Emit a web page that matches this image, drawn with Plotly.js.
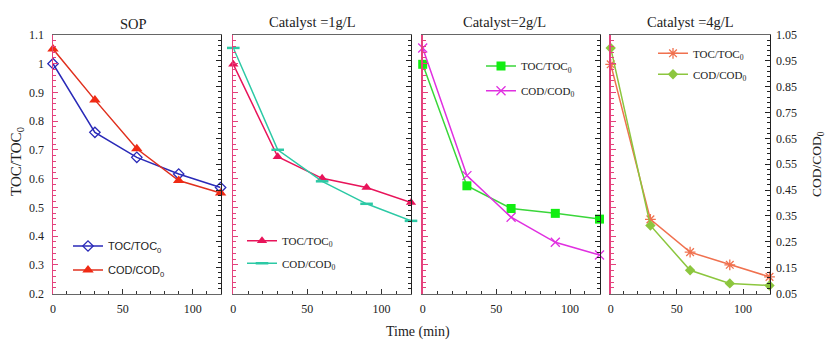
<!DOCTYPE html>
<html>
<head>
<meta charset="utf-8">
<script src="https://cdn.plot.ly/plotly-3.0.1.min.js"></script>
<style>html,body{margin:0;padding:0;background:#fff;}#chart{width:826px;height:343px;}</style>
</head>
<body>
<div id="chart"></div>
<script>
// ---- data ----
const times = [0, 30, 60, 90, 120];
const sopTOC  = [1.000, 0.761, 0.674, 0.616, 0.569];
const sopCOD  = [0.996, 0.799, 0.610, 0.487, 0.439];
const cat1TOC = [0.998, 0.676, 0.601, 0.569, 0.517];
const cat1COD = [1.000, 0.606, 0.484, 0.397, 0.331];
const cat2TOC = [0.998, 0.575, 0.496, 0.479, 0.459];
const cat2COD = [1.000, 0.506, 0.345, 0.248, 0.199];
const cat4TOC = [0.998, 0.458, 0.344, 0.300, 0.258];
const cat4COD = [1.000, 0.313, 0.140, 0.089, 0.081];
const panelTitles = ["SOP", "Catalyst =1g/L", "Catalyst=2g/L", "Catalyst =4g/L"];
const tocName = "TOC/TOC<sub>0</sub>";
const codName = "COD/COD<sub>0</sub>";
const xTitle = "Time (min)";
const leftTitle = "TOC/TOC<sub>0</sub>";
const rightTitle = "COD/COD<sub>0</sub>";

// ---- layout helpers ----
const W = 826, H = 343;
const px = v => v / W, py = v => 1 - v / H;
const SERIF = "'Liberation Serif', 'Times New Roman', serif";
const SANS = "'Liberation Sans', Arial, sans-serif";
const PINK = "#e5427d";
const panels = [[53, 220.6], [233.3, 411], [422.7, 599.5], [610.7, 769.5]];
const yDom = [py(293.5), py(35)];

const series = [
  {toc: sopTOC, cod: sopCOD,
   tocStyle: {line: {color: "#2a2ab8", width: 1.5}, marker: {symbol: "diamond-open", size: 8, color: "#2a2ab8", line: {width: 1.3}}},
   codStyle: {line: {color: "#e0301e", width: 1.5}, marker: {symbol: "triangle-up", size: 10, color: "#f02a14"}},
   font: SANS, leg: [[108, 246], [108, 270]]},
  {toc: cat1TOC, cod: cat1COD,
   tocStyle: {line: {color: "#e8145a", width: 1.5}, marker: {symbol: "triangle-up", size: 9, color: "#e8145a"}},
   codStyle: {line: {color: "#2cc9a5", width: 1.5}, marker: {symbol: "line-ew", size: 9, color: "#2cc9a5", line: {width: 2.5, color: "#2cc9a5"}}},
   font: SERIF, leg: [[282, 240.7], [282, 263.3]]},
  {toc: cat2TOC, cod: cat2COD,
   tocStyle: {line: {color: "#3ad63a", width: 1.5}, marker: {symbol: "square", size: 9, color: "#11ee11"}},
   codStyle: {line: {color: "#e030e0", width: 1.5}, marker: {symbol: "x-thin", size: 9, color: "#e030e0", line: {width: 1.3, color: "#e030e0"}}},
   font: SERIF, leg: [[521, 66], [521, 90.7]]},
  {toc: cat4TOC, cod: cat4COD,
   tocStyle: {line: {color: "#f0714f", width: 1.5}, marker: {symbol: "asterisk-open", size: 9, color: "#f0714f", line: {width: 1.3, color: "#f0714f"}}},
   codStyle: {line: {color: "#8cc63e", width: 1.5}, marker: {symbol: "diamond", size: 8, color: "#8cc63e"}},
   font: SERIF, leg: [[693, 53.3], [693, 74.3]]}
];

const data = [];
const layout = {
  width: W, height: H,
  margin: {l: 0, r: 0, t: 0, b: 0},
  paper_bgcolor: "#fff", plot_bgcolor: "rgba(0,0,0,0)",
  showlegend: true,
  font: {family: SERIF, size: 12, color: "#222"},
  annotations: [], shapes: []
};

series.forEach((s, i) => {
  const xn = i === 0 ? "x" : "x" + (i + 1);
  const yl = i === 0 ? "y" : "y" + (2 * i + 1);
  const yr = "y" + (2 * i + 2);
  const legL = i === 0 ? "legend" : "legend" + (2 * i + 1);
  const legR = "legend" + (2 * i + 2);
  data.push(Object.assign({x: times, y: s.toc, xaxis: xn, yaxis: yl, mode: "lines+markers",
    name: tocName, legend: legL, cliponaxis: false}, s.tocStyle));
  data.push(Object.assign({x: times, y: s.cod, xaxis: xn, yaxis: yr, mode: "lines+markers",
    name: codName, legend: legR, cliponaxis: false}, s.codStyle));

  const xk = i === 0 ? "xaxis" : "xaxis" + (i + 1);
  const ylk = i === 0 ? "yaxis" : "yaxis" + (2 * i + 1);
  const yrk = "yaxis" + (2 * i + 2);
  layout[xk] = {
    domain: [px(panels[i][0]), px(panels[i][1])], anchor: yl, range: [0, 120],
    tick0: 0, dtick: 50, ticks: "inside", ticklen: 5, tickcolor: "#333",
    minor: {dtick: 10, ticks: "inside", ticklen: 3, tickcolor: "#333"},
    showline: true, linecolor: "#666", linewidth: 1, mirror: true,
    showgrid: false, zeroline: false, ticklabelstandoff: 4,
    tickfont: {family: SERIF, size: 12, color: "#222"}
  };
  layout[ylk] = {
    domain: yDom, anchor: xn, range: [0.2, 1.1],
    tick0: 0.2, dtick: 0.1, ticks: "inside", ticklen: 5, tickcolor: PINK,
    minor: {tick0: 0.2, dtick: 0.02, ticks: "inside", ticklen: 3, tickcolor: PINK},
    showline: true, linecolor: PINK, linewidth: 1.5,
    showgrid: false, zeroline: false, showticklabels: i === 0, ticklabelstandoff: 5,
    tickfont: {family: SERIF, size: 12, color: "#222"}
  };
  layout[yrk] = {
    overlaying: yl, side: "right", anchor: xn, range: [0.05, 1.05],
    tick0: 0.05, dtick: 0.1, ticks: "inside", ticklen: 5, tickcolor: "#222",
    minor: {tick0: 0.05, dtick: 0.02, ticks: "inside", ticklen: 3, tickcolor: "#222"},
    showline: true, linecolor: "#222", linewidth: 1,
    showgrid: false, zeroline: false, showticklabels: i === 3, ticklabelstandoff: 3,
    tickfont: {family: SERIF, size: 12, color: "#222"}
  };
  // helper axes giving the outer half of the crossing tick marks (no data, no labels)
  const hx = "xaxis" + (5 + i), hxn = "x" + (5 + i);
  const hl = "yaxis" + (9 + 2 * i), hr = "yaxis" + (10 + 2 * i);
  layout[hx] = {overlaying: xn, anchor: yl, range: [0, 120], tick0: 0, dtick: 50,
    ticks: "outside", ticklen: 4, tickcolor: "#333", showline: false, showgrid: false,
    zeroline: false, showticklabels: false};
  layout[hl] = {overlaying: yl, anchor: xn, side: "left", range: [0.2, 1.1], tick0: 0.2, dtick: 0.1,
    ticks: "outside", ticklen: 4, tickcolor: PINK,
    minor: {tick0: 0.2, dtick: 0.02, ticks: "outside", ticklen: 2, tickcolor: PINK},
    showline: false, showgrid: false, zeroline: false, showticklabels: false};
  layout[hr] = {overlaying: yl, anchor: xn, side: "right", range: [0.05, 1.05], tick0: 0.05, dtick: 0.1,
    ticks: "outside", ticklen: 4, tickcolor: "#222",
    showline: false, showgrid: false, zeroline: false, showticklabels: false};

  [[legL, s.leg[0]], [legR, s.leg[1]]].forEach(([ln, pos]) => {
    layout[ln] = {x: px(pos[0] - 40), y: py(pos[1]), xanchor: "left", yanchor: "middle",
      bgcolor: "rgba(0,0,0,0)", borderwidth: 0,
      font: {family: s.font, size: 11, color: "#222"}};
  });
});

// panel titles
const titlePos = [[133, 24], [312.5, 22], [504, 22], [690.5, 22]];
panelTitles.forEach((t, i) => {
  layout.annotations.push({text: t, xref: "paper", yref: "paper",
    x: px(titlePos[i][0]), y: py(titlePos[i][1]), xanchor: "center", yanchor: "middle",
    showarrow: false, font: {family: SERIF, size: 14.5, color: "#222"}});
});
layout.annotations.push({text: xTitle, xref: "paper", yref: "paper", x: px(418), y: py(332),
  xanchor: "center", yanchor: "middle", showarrow: false, font: {family: SERIF, size: 14, color: "#222"}});
layout.annotations.push({text: leftTitle, xref: "paper", yref: "paper", x: px(17), y: py(162),
  xanchor: "center", yanchor: "middle", textangle: -90, showarrow: false,
  font: {family: SERIF, size: 15, color: "#222"}});
layout.annotations.push({text: rightTitle, xref: "paper", yref: "paper", x: px(818), y: py(164),
  xanchor: "center", yanchor: "middle", textangle: -90, showarrow: false,
  font: {family: SERIF, size: 13.5, color: "#222"}});

Plotly.newPlot("chart", data, layout, {displayModeBar: false, staticPlot: true});
</script>
</body>
</html>
